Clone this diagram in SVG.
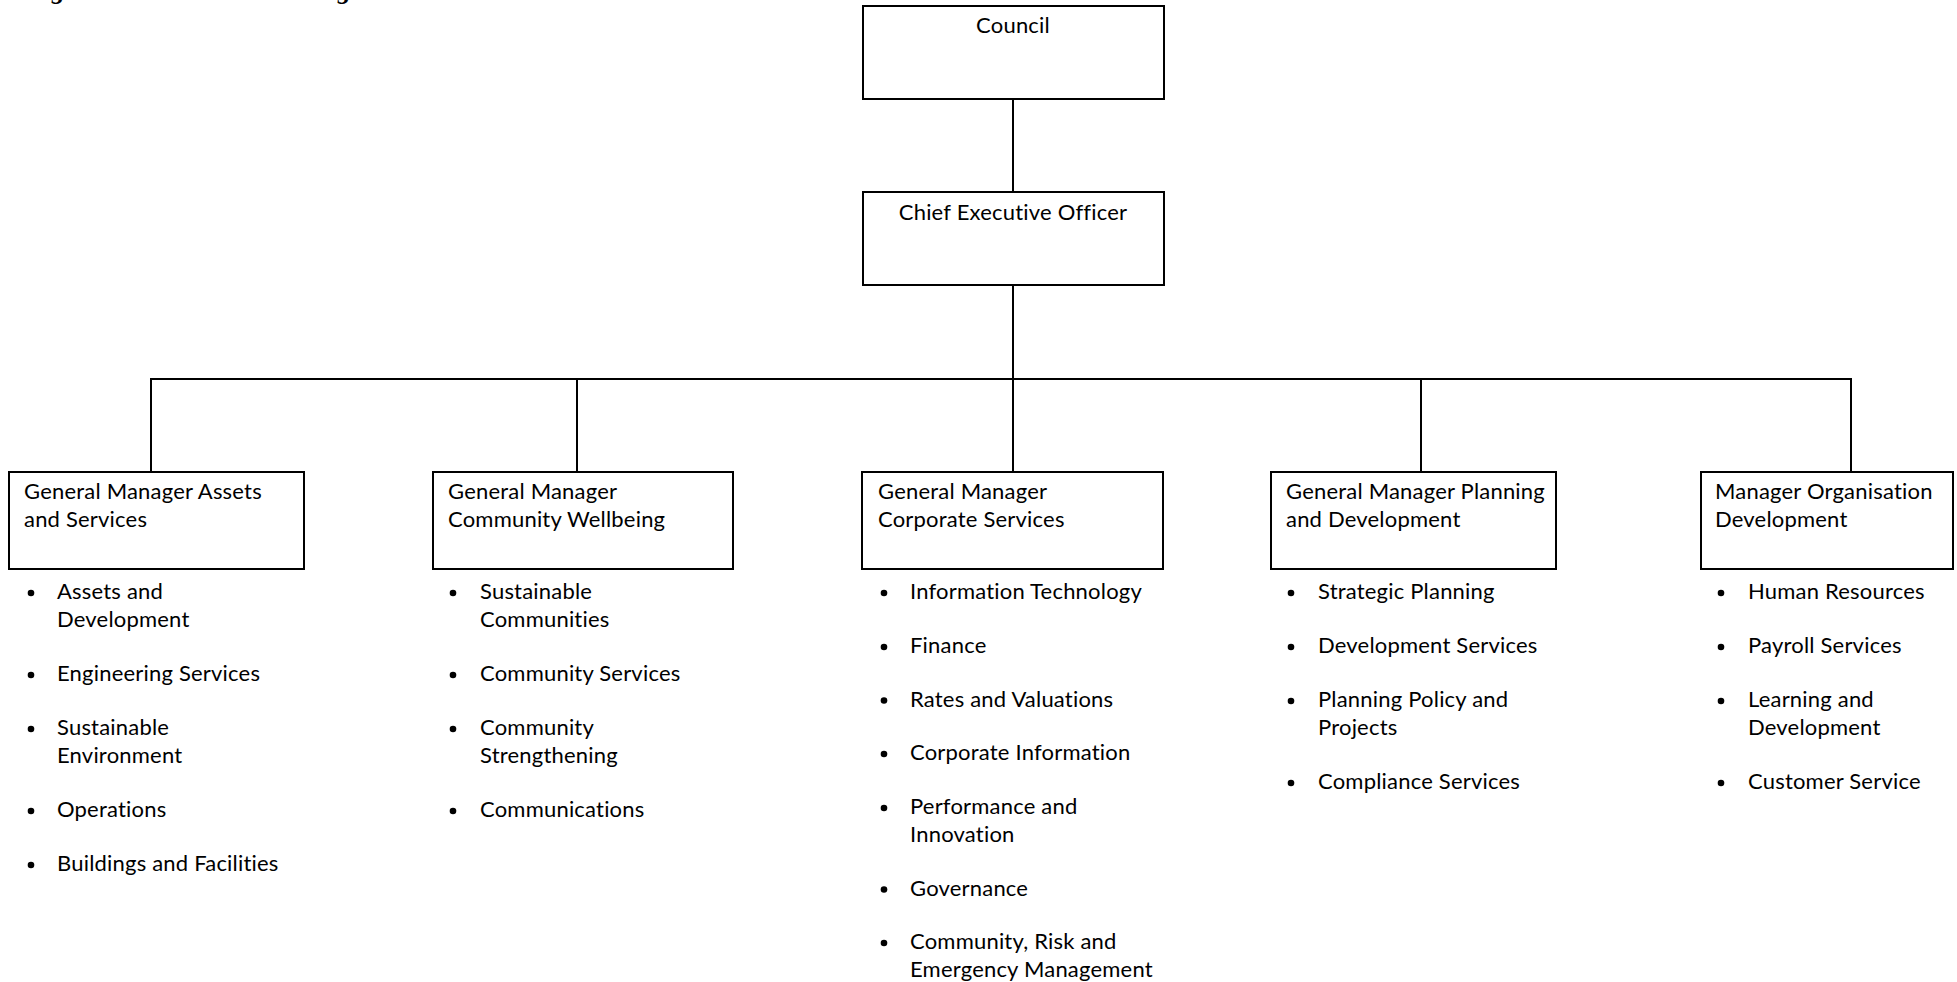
<svg xmlns="http://www.w3.org/2000/svg" width="1957" height="982" viewBox="0 0 1957 982">
<style>
  .box{fill:#fff;stroke:#000;stroke-width:2}
  .wire{fill:none;stroke:#000;stroke-width:2}
  text{font-family:Lato,"Liberation Sans",sans-serif;font-size:22px;letter-spacing:0.2px;fill:#000}
  .c{text-anchor:middle}
  .title{font-family:"Liberation Serif",serif;font-weight:bold;font-style:italic;font-size:26px;letter-spacing:0}
  .dot{fill:#000}
</style>
<rect width="1957" height="982" fill="#fff"/>
<text class="title" x="23" y="-1.5">Organisational Structure Diagram</text>
<g id="connectors">
  <line class="wire" x1="1013" y1="99" x2="1013" y2="192"/>
  <line class="wire" x1="1013" y1="285" x2="1013" y2="472"/>
  <polyline class="wire" points="151,472 151,379 1851,379 1851,472"/>
  <line class="wire" x1="577" y1="379" x2="577" y2="472"/>
  <line class="wire" x1="1421" y1="379" x2="1421" y2="472"/>
</g>
<g id="council">
  <rect class="box" x="863" y="6" width="301" height="93"/>
  <text class="c" x="1013" y="33">Council</text>
</g>
<g id="ceo">
  <rect class="box" x="863" y="192" width="301" height="93"/>
  <text class="c" x="1013" y="220">Chief Executive Officer</text>
</g>
<g id="gm-assets">
  <rect class="box" x="9" y="472" width="295" height="97"/>
  <text x="24" y="499">General Manager Assets</text>
  <text x="24" y="527">and Services</text>
  <circle class="dot" cx="31" cy="593" r="3.3"/><text x="57" y="599">Assets and</text><text x="57" y="627">Development</text>
  <circle class="dot" cx="31" cy="675" r="3.3"/><text x="57" y="681">Engineering Services</text>
  <circle class="dot" cx="31" cy="729" r="3.3"/><text x="57" y="735">Sustainable</text><text x="57" y="763">Environment</text>
  <circle class="dot" cx="31" cy="811" r="3.3"/><text x="57" y="817">Operations</text>
  <circle class="dot" cx="31" cy="865" r="3.3"/><text x="57" y="871">Buildings and Facilities</text>
</g>
<g id="gm-community">
  <rect class="box" x="433" y="472" width="300" height="97"/>
  <text x="448" y="499">General Manager</text>
  <text x="448" y="527">Community Wellbeing</text>
  <circle class="dot" cx="453" cy="593" r="3.3"/><text x="480" y="599">Sustainable</text><text x="480" y="627">Communities</text>
  <circle class="dot" cx="453" cy="675" r="3.3"/><text x="480" y="681">Community Services</text>
  <circle class="dot" cx="453" cy="729" r="3.3"/><text x="480" y="735">Community</text><text x="480" y="763">Strengthening</text>
  <circle class="dot" cx="453" cy="811" r="3.3"/><text x="480" y="817">Communications</text>
</g>
<g id="gm-corporate">
  <rect class="box" x="862" y="472" width="301" height="97"/>
  <text x="878" y="499">General Manager</text>
  <text x="878" y="527">Corporate Services</text>
  <circle class="dot" cx="884" cy="593" r="3.3"/><text x="910" y="599">Information Technology</text>
  <circle class="dot" cx="884" cy="647" r="3.3"/><text x="910" y="653">Finance</text>
  <circle class="dot" cx="884" cy="700.5" r="3.3"/><text x="910" y="706.5">Rates and Valuations</text>
  <circle class="dot" cx="884" cy="754" r="3.3"/><text x="910" y="760">Corporate Information</text>
  <circle class="dot" cx="884" cy="808" r="3.3"/><text x="910" y="814">Performance and</text><text x="910" y="842">Innovation</text>
  <circle class="dot" cx="884" cy="889.5" r="3.3"/><text x="910" y="895.5">Governance</text>
  <circle class="dot" cx="884" cy="943" r="3.3"/><text x="910" y="949">Community, Risk and</text><text x="910" y="977">Emergency Management</text>
</g>
<g id="gm-planning">
  <rect class="box" x="1271" y="472" width="285" height="97"/>
  <text x="1286" y="499">General Manager Planning</text>
  <text x="1286" y="527">and Development</text>
  <circle class="dot" cx="1291" cy="593" r="3.3"/><text x="1318" y="599">Strategic Planning</text>
  <circle class="dot" cx="1291" cy="647" r="3.3"/><text x="1318" y="653">Development Services</text>
  <circle class="dot" cx="1291" cy="701" r="3.3"/><text x="1318" y="707">Planning Policy and</text><text x="1318" y="735">Projects</text>
  <circle class="dot" cx="1291" cy="783" r="3.3"/><text x="1318" y="789">Compliance Services</text>
</g>
<g id="mgr-od">
  <rect class="box" x="1701" y="472" width="252" height="97"/>
  <text x="1715" y="499">Manager Organisation</text>
  <text x="1715" y="527">Development</text>
  <circle class="dot" cx="1721" cy="593" r="3.3"/><text x="1748" y="599">Human Resources</text>
  <circle class="dot" cx="1721" cy="647" r="3.3"/><text x="1748" y="653">Payroll Services</text>
  <circle class="dot" cx="1721" cy="701" r="3.3"/><text x="1748" y="707">Learning and</text><text x="1748" y="735">Development</text>
  <circle class="dot" cx="1721" cy="783" r="3.3"/><text x="1748" y="789">Customer Service</text>
</g>
</svg>
